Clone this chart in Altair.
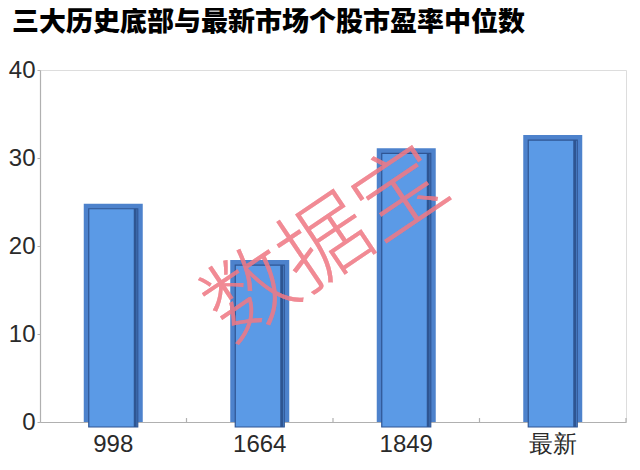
import altair as alt
import pandas as pd

categories = ["998", "1664", "1849", "最新"]
values = [24.8, 18.4, 31.1, 32.6]

df = pd.DataFrame({"cat": categories, "val": values})

xenc = alt.X("cat:N", sort=categories, title=None,
             scale=alt.Scale(paddingInner=0, paddingOuter=0),
             axis=alt.Axis(labelAngle=0, labelFont="Liberation Sans", labelFontSize=24,
                           labelColor="#2a2a2a", labelPadding=10, ticks=False,
                           domainColor="#b0b0b0", domainWidth=1.2))
yenc = alt.Y("val:Q", title=None,
             scale=alt.Scale(domain=[0, 40]),
             axis=alt.Axis(values=[0, 10, 20, 30, 40], grid=False, labelFont="Liberation Sans",
                           labelFontSize=24, labelColor="#2a2a2a", tickSize=3, tickColor="#b0b0b0",
                           domainColor="#b0b0b0", domainWidth=1.2, labelPadding=2))

base = alt.Chart(df)

outer = base.mark_bar(size=59, color="#4d82cc").encode(x=xenc, y=yenc)
inner = base.mark_bar(size=49, color="#5b9ae6", stroke="#2f5593", strokeWidth=1.2,
                      yOffset=5, y2Offset=-5).encode(x=alt.X("cat:N", sort=categories), y="val:Q")
shade = base.mark_bar(size=3, color="#2e5592", xOffset=22, yOffset=5, y2Offset=-5).encode(
    x=alt.X("cat:N", sort=categories), y="val:Q")

ticks = base.mark_rule(color="#b0b0b0", strokeWidth=1.2).encode(
    x=alt.X("cat:N", sort=categories, bandPosition=1),
    y=alt.datum(0),
    y2=alt.datum(0.45),
)

wm = base.mark_text(text="数据宝", font="Noto Sans CJK SC", fontSize=90, angle=326,
                    fontWeight=300, color="#f07a86", opacity=0.4, align="center",
                    baseline="middle").encode(x=alt.value(287), y=alt.value(176))

chart = alt.layer(outer, inner, shade, ticks, wm).properties(
    width=586, height=352,
    title=alt.TitleParams("三大历史底部与最新市场个股市盈率中位数", anchor="start", frame="group",
                          font="Noto Sans CJK SC", fontSize=27, fontWeight=900,
                          color="#000000", dx=-28, offset=21),
    autosize=alt.AutoSizeParams(type="none"),
    padding={"left": 32, "top": 62, "right": 6, "bottom": 40},
).configure_view(stroke=None).configure(background="white")

chart.save("out.html", embed_options={"renderer": "svg", "actions": False})
